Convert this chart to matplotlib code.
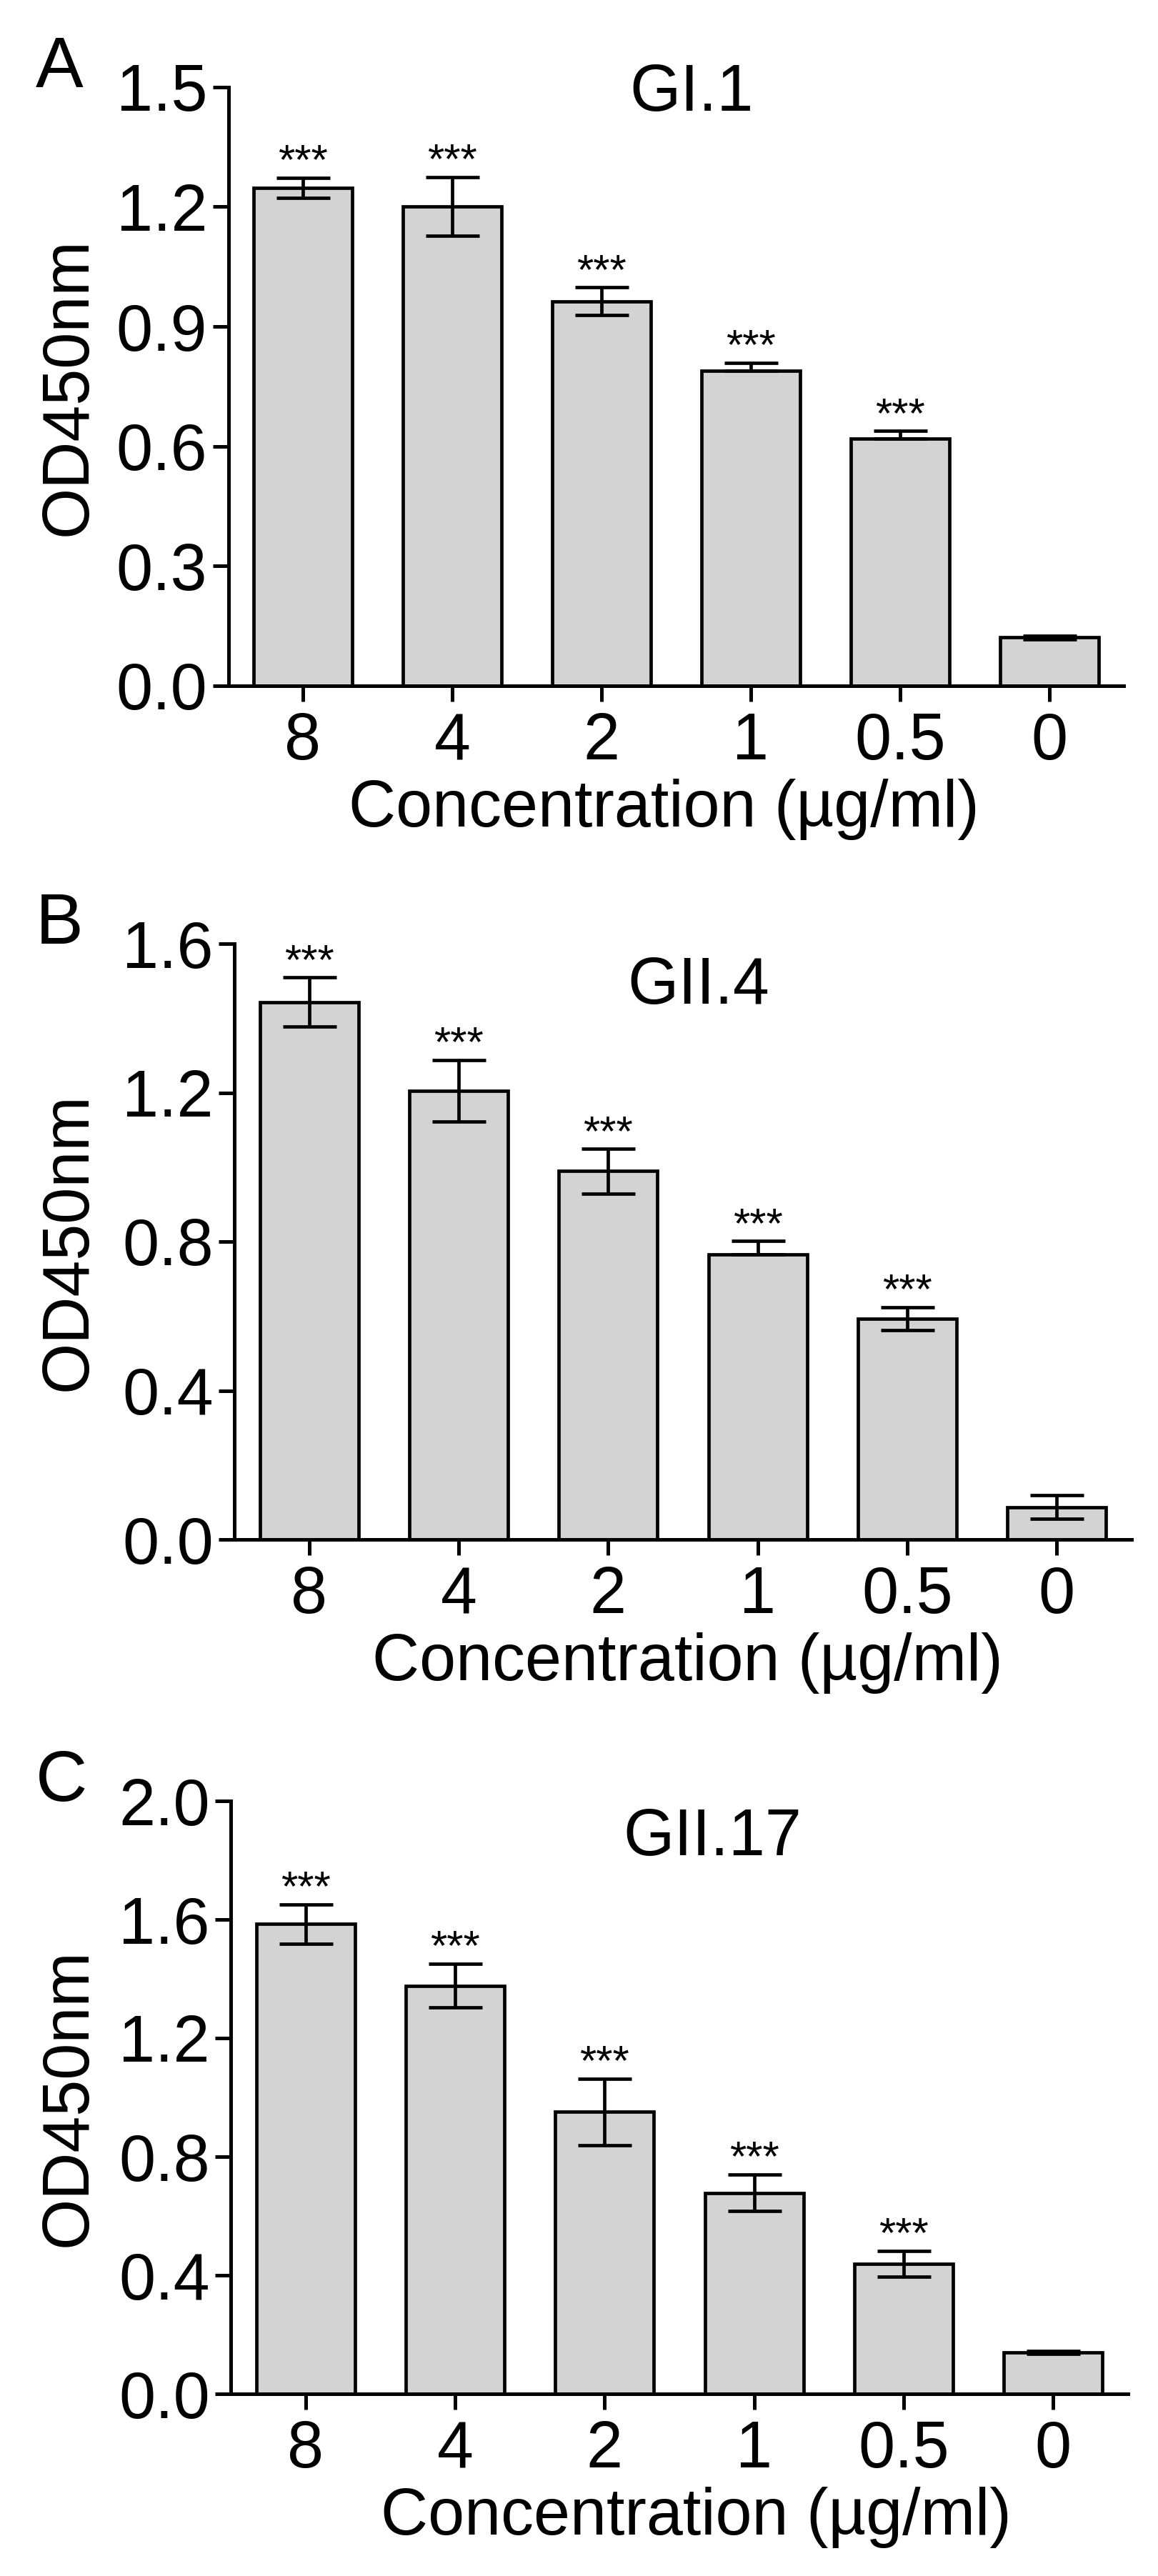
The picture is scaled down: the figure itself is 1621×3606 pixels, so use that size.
import matplotlib
matplotlib.use("Agg")
import matplotlib.pyplot as plt
import matplotlib.transforms as mtransforms
import numpy as np

plt.rcParams['font.family'] = ['Liberation Sans', 'DejaVu Sans']

# ---- data ----
categories = ["8", "4", "2", "1", "0.5", "0"]
xlabel_text = "Concentration (\u00b5g/ml)"
ylabel_text = "OD450nm"

titles = ["GI.1", "GII.4", "GII.17"]
panel_letters = ["A", "B", "C"]

means_A = [1.247, 1.201, 0.963, 0.789, 0.620, 0.121]
err_hi_A = [0.025, 0.073, 0.035, 0.020, 0.018, 0.004]
err_lo_A = [0.025, 0.073, 0.035, 0.000, 0.000, 0.004]

means_B = [1.443, 1.205, 0.989, 0.765, 0.593, 0.087]
err_hi_B = [0.066, 0.083, 0.060, 0.036, 0.031, 0.031]
err_lo_B = [0.066, 0.083, 0.060, 0.000, 0.030, 0.031]

means_C = [1.585, 1.377, 0.951, 0.678, 0.439, 0.140]
err_hi_C = [0.066, 0.074, 0.112, 0.062, 0.043, 0.004]
err_lo_C = [0.066, 0.074, 0.112, 0.062, 0.043, 0.004]

stars = ["***", "***", "***", "***", "***", ""]

yticks_A = [0.0, 0.3, 0.6, 0.9, 1.2, 1.5]
yticks_B = [0.0, 0.4, 0.8, 1.2, 1.6]
yticks_C = [0.0, 0.4, 0.8, 1.2, 1.6, 2.0]

# ---- layout (pixels in a 1621 x 3606 canvas) ----
W, H = 1621, 3606
DPI = 100
fig = plt.figure(figsize=(W / DPI, H / DPI), dpi=DPI)

panels = [
    dict(means=means_A, hi=err_hi_A, lo=err_lo_A, yticks=yticks_A,
         box=(319.5, 121.7, 1573.5, 960.0), title_xy=(0.517, 0.960), xlab_x=0.486),
    dict(means=means_B, hi=err_hi_B, lo=err_lo_B, yticks=yticks_B,
         box=(328.0, 1321.0, 1584.0, 2155.0), title_xy=(0.517, 0.899), xlab_x=0.505),
    dict(means=means_C, hi=err_hi_C, lo=err_lo_C, yticks=yticks_C,
         box=(323.0, 2521.0, 1579.0, 3351.0), title_xy=(0.537, 0.908), xlab_x=0.519),
]

FS = 66
LW = 3.4
GRAY = "#d3d3d3"

for i, p in enumerate(panels):
    l, t, r, b = p["box"]
    ax = fig.add_axes([l / W, 1 - b / H, (r - l) / W, (b - t) / H])
    x = np.arange(len(categories))
    ax.bar(x, p["means"], width=0.66, color=GRAY, edgecolor="black",
           linewidth=LW, zorder=2)
    ax.errorbar(x, p["means"], yerr=[p["lo"], p["hi"]], fmt="none",
                ecolor="black", elinewidth=LW, capsize=27, capthick=LW, zorder=3)
    for xi, m, e, s in zip(x, p["means"], p["hi"], stars):
        if s:
            ax.annotate(s, xy=(xi, m + e), xytext=(0, 4), textcoords="offset points",
                        ha="center", va="baseline", fontsize=43, zorder=4)

    ax.set_xlim(-0.5, 5.5)
    ax.set_ylim(0, p["yticks"][-1])
    ax.set_yticks(p["yticks"])
    ax.set_yticklabels([f"{v:.1f}" for v in p["yticks"]])
    ax.set_xticks(x)
    ax.set_xticklabels(categories)

    for side in ("top", "right"):
        ax.spines[side].set_visible(False)
    for side in ("left", "bottom"):
        ax.spines[side].set_linewidth(3.6)
    ax.tick_params(axis="both", labelsize=FS, width=3.6, length=16, direction="out")
    ax.tick_params(axis="x", pad=10)
    ax.tick_params(axis="y", pad=5)

    ax.set_xlabel(xlabel_text, fontsize=FS)
    ax.xaxis.set_label_coords(p["xlab_x"], -130.0 / (b - t))
    ax.set_ylabel(ylabel_text, fontsize=FS)
    ax.yaxis.set_label_coords(140.0 / W, 0.5,
                              transform=mtransforms.blended_transform_factory(fig.transFigure, ax.transAxes))

    ax.text(p["title_xy"][0], p["title_xy"][1], titles[i], transform=ax.transAxes,
            ha="center", va="baseline", fontsize=FS)
    fig.text(50.0 / W, 1 - t / H, panel_letters[i], ha="left", va="baseline", fontsize=72)

fig.savefig("out.png", dpi=DPI, facecolor="white")
